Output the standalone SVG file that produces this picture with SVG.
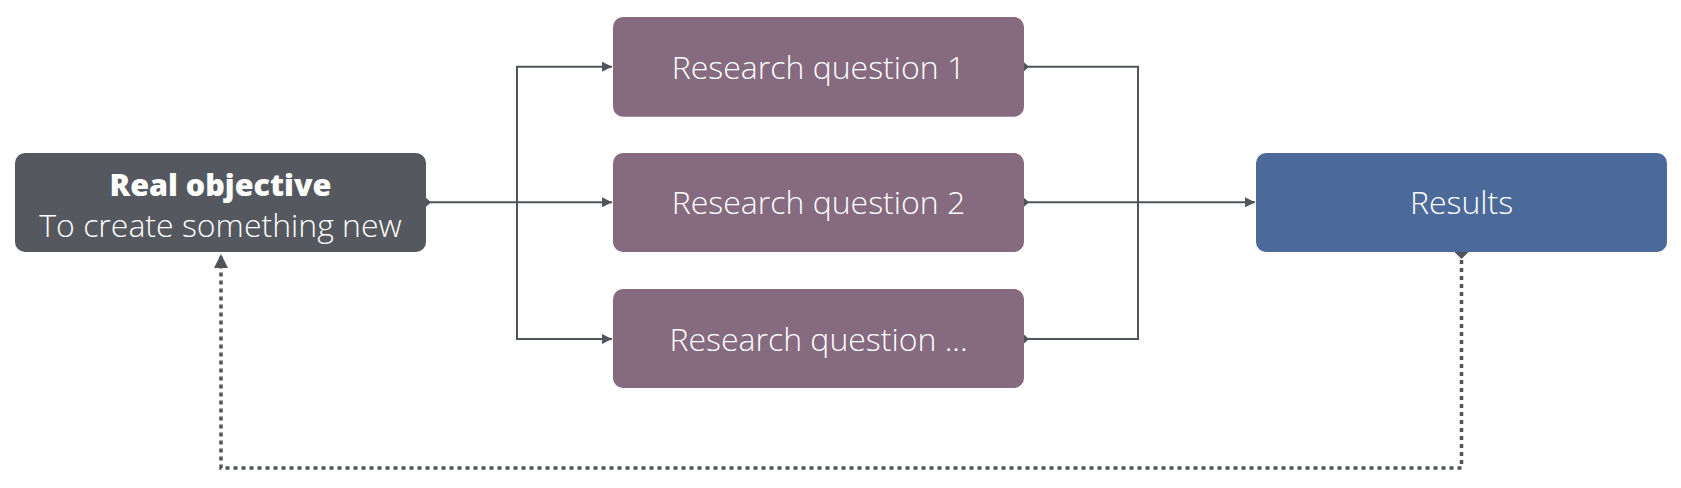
<svg xmlns="http://www.w3.org/2000/svg" width="1681" height="488" viewBox="0 0 1681 488">
<style>
.t{font-family:"Open Sans","Liberation Sans",sans-serif;font-size:32px;fill:#fff;font-weight:300;text-anchor:middle}
.b{font-weight:800;font-size:30.5px}
.ln{fill:none;stroke:#50545b;stroke-width:2}
.dot{fill:none;stroke:#50545b;stroke-width:3.5;stroke-dasharray:4 4}
</style>
<defs>
<marker id="ah" viewBox="0 0 10 10" refX="10" refY="5" markerWidth="10" markerHeight="10" markerUnits="userSpaceOnUse" orient="auto"><path d="M0,0L10,5L0,10z" fill="#50545b"/></marker>
<marker id="st" viewBox="0 0 10 10" refX="0" refY="5" markerWidth="5" markerHeight="9" markerUnits="userSpaceOnUse" orient="auto" preserveAspectRatio="none"><path d="M0,0L10,5L0,10z" fill="#50545b"/></marker>
<marker id="st2" viewBox="0 0 10 10" refX="0" refY="5" markerWidth="7" markerHeight="14" markerUnits="userSpaceOnUse" orient="auto" preserveAspectRatio="none"><path d="M0,0L10,5L0,10z" fill="#50545b"/></marker>
<marker id="ah2" viewBox="0 0 10 10" refX="10" refY="5" markerWidth="14" markerHeight="14" markerUnits="userSpaceOnUse" orient="auto"><path d="M0,0L10,5L0,10z" fill="#50545b"/></marker>
</defs>
<g id="connectors">
<path class="ln" d="M426,202.3H517V66.7H612" marker-start="url(#st)" marker-end="url(#ah)"/>
<path class="ln" d="M517,202.3H612" marker-end="url(#ah)"/>
<path class="ln" d="M517,202.3V339H612" marker-end="url(#ah)"/>
<path class="ln" d="M1024,66.7H1138V339H1024" marker-start="url(#st)"/>
<path class="ln" d="M1024,339H1026" marker-start="url(#st)"/>
<path class="ln" d="M1024,202.3H1255" marker-start="url(#st)" marker-end="url(#ah)"/>
<path class="dot" d="M1461.5,252V468H221V254" marker-start="url(#st2)" marker-end="url(#ah2)"/>
</g>
<g id="real-objective">
<rect x="15" y="153" width="411" height="99" rx="10" fill="#55595f"/>
<text class="t b" x="220.5" y="196">Real objective</text>
<text class="t" x="220.5" y="237">To create something new</text>
</g>
<g id="rq1">
<rect x="613" y="17" width="411" height="99.7" rx="10" fill="#866a80"/>
<text class="t" x="818.5" y="79">Research question 1</text>
</g>
<g id="rq2">
<rect x="613" y="153" width="411" height="99" rx="10" fill="#866a80"/>
<text class="t" x="818.5" y="214">Research question 2</text>
</g>
<g id="rq3">
<rect x="613" y="289" width="411" height="99" rx="10" fill="#866a80"/>
<text class="t" x="818.5" y="351">Research question ...</text>
</g>
<g id="results">
<rect x="1256" y="153" width="411" height="99" rx="10" fill="#4b6a9a"/>
<text class="t" x="1461.5" y="214">Results</text>
</g>
</svg>
